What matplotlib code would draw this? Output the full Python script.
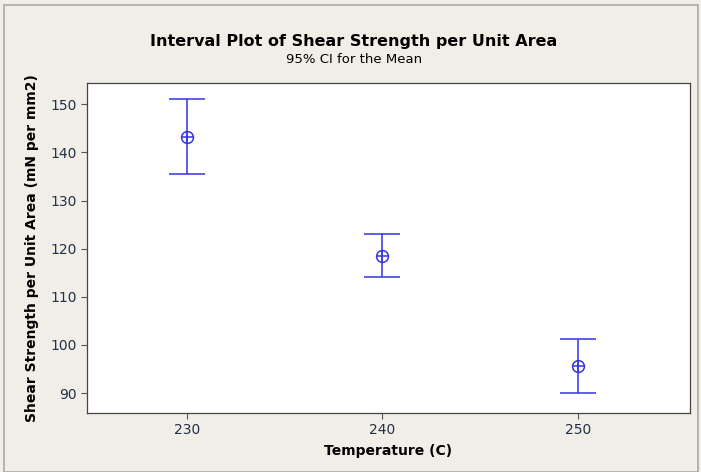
import matplotlib.pyplot as plt
from matplotlib.patches import Rectangle

# values
temperature = [230, 240, 250]
mean_strength = [143.2, 118.5, 95.6]
ci_upper = [151.0, 123.0, 101.2]
ci_lower = [135.5, 114.1, 90.1]
yticks = [90, 100, 110, 120, 130, 140, 150]

blue = "#3434e2"
bg = "#f1eee8"
tick_col = "#22304a"

fig = plt.figure(figsize=(7.01, 4.72), dpi=100, facecolor=bg)
fig.patches.append(Rectangle((0.006, 0.0), 0.99, 0.99, transform=fig.transFigure,
                             fill=False, edgecolor="#a9a9a9", lw=1.2))
ax = fig.add_axes([0.124, 0.125, 0.86, 0.699])
ax.set_facecolor("white")

err_lo = [m - lo for m, lo in zip(mean_strength, ci_lower)]
err_hi = [hi - m for m, hi in zip(mean_strength, ci_upper)]
ax.errorbar(temperature, mean_strength, yerr=[err_lo, err_hi], fmt="none",
            ecolor=blue, elinewidth=1.1, capsize=13, capthick=1.1)
ax.plot(temperature, mean_strength, "o", ms=8.5, mfc="none", mec=blue, mew=1.1)
ax.plot(temperature, mean_strength, "+", ms=8.5, color=blue, mew=1.1)

ax.set_xlim(224.9, 255.7)
ax.set_ylim(85.85, 154.4)
ax.set_xticks(temperature)
ax.set_yticks(yticks)
ax.tick_params(direction="out", length=4, width=0.8, colors="#555555",
               labelcolor=tick_col, labelsize=10)
for s in ax.spines.values():
    s.set_color("#444444")
    s.set_linewidth(0.9)

ax.set_xlabel("Temperature (C)", fontsize=10, fontweight="bold", labelpad=5)
ax.set_ylabel("Shear Strength per Unit Area (mN per mm2)", fontsize=10,
              fontweight="bold", labelpad=8)
fig.text(0.505, 0.913, "Interval Plot of Shear Strength per Unit Area",
         ha="center", va="center", fontsize=11.5, fontweight="bold")
fig.text(0.505, 0.873, "95% CI for the Mean", ha="center", va="center",
         fontsize=9.5)

fig.savefig("out.png", dpi=100, facecolor=bg)
